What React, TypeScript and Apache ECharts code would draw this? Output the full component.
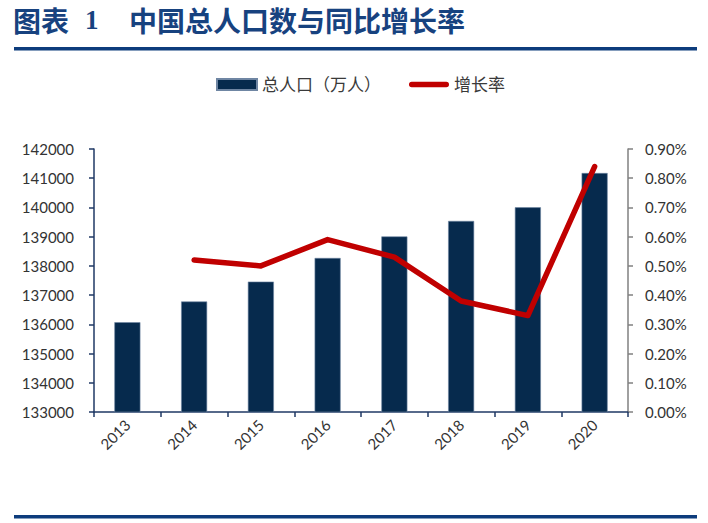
import React, { useEffect, useRef } from "react";
import * as echarts from "echarts";

const years = ["2013", "2014", "2015", "2016", "2017", "2018", "2019", "2020"];
const population = [136072, 136782, 137462, 138271, 139008, 139538, 140005, 141178];
const growthRate: (number | string)[] = ["-", 0.52, 0.5, 0.59, 0.53, 0.38, 0.33, 0.84];

const seriesNames = ["总人口（万人）", "增长率"];
const titleLabel = "图表";
const titleNumber = "1";
const titleText = "中国总人口数与同比增长率";

const NAVY = "#062a4d";
const RED = "#c00000";
const TITLE_BLUE = "#17427f";
const LINE_BLUE = "#0d3c7c";
const FONT = "Lato, 'Noto Sans CJK SC', sans-serif";
const LINE_ICON = "path://M3,0 L41,0 A3,3 0 0 1 41,6 L3,6 A3,3 0 0 1 3,0 Z";

export default function App() {
  const ref = useRef<HTMLDivElement>(null);

  useEffect(() => {
    if (!ref.current) return;
    const chart = echarts.init(ref.current, undefined, { renderer: "svg" });
    const titleFont = "bold 28px 'Noto Sans CJK SC', sans-serif";
    chart.setOption({
      animation: false,
      backgroundColor: "#ffffff",
      textStyle: { fontFamily: FONT },
      graphic: [
        { type: "text", left: 13, top: 6, style: { text: titleLabel, font: titleFont, fill: TITLE_BLUE } },
        { type: "text", left: 85, top: 6, style: { text: titleNumber, font: "bold 27px 'Liberation Serif', serif", fill: TITLE_BLUE } },
        { type: "text", left: 129, top: 6, style: { text: titleText, font: titleFont, fill: TITLE_BLUE } },
        { type: "rect", shape: { x: 14, y: 47, width: 683, height: 3.5 }, style: { fill: LINE_BLUE } },
        { type: "rect", shape: { x: 14, y: 515, width: 683, height: 3.5 }, style: { fill: LINE_BLUE } },
      ],
      legend: {
        left: 211,
        top: 71,
        itemWidth: 40,
        itemHeight: 11,
        itemGap: 28,
        textStyle: { fontSize: 17, color: "#3a3a3a", fontFamily: FONT },
        data: [
          { name: seriesNames[0], icon: "rect" },
          { name: seriesNames[1], icon: LINE_ICON, itemStyle: { color: RED } },
        ],
      },
      grid: { left: 94, right: 80, top: 149, bottom: 111, containLabel: false },
      xAxis: {
        type: "category",
        data: years,
        boundaryGap: true,
        axisLine: { lineStyle: { color: "#1f3864", width: 1.5 } },
        axisTick: { show: true, alignWithLabel: false, length: 5, lineStyle: { color: "#1f3864", width: 1.5 } },
        axisLabel: { rotate: 45, fontSize: 15, color: "#333333", margin: 10, fontFamily: FONT },
      },
      yAxis: [
        {
          type: "value",
          min: 133000,
          max: 142000,
          interval: 1000,
          splitLine: { show: false },
          axisLine: { show: true, lineStyle: { color: "#1f3864", width: 1.5 } },
          axisTick: { show: true, length: 5, lineStyle: { color: "#1f3864", width: 1.5 } },
          axisLabel: {
            fontSize: 15,
            color: "#333333",
            margin: 20,
            fontFamily: FONT,
            formatter: (v: number) => String(v),
          },
        },
        {
          type: "value",
          min: 0,
          max: 0.9,
          interval: 0.1,
          position: "right",
          splitLine: { show: false },
          axisLine: { show: true, lineStyle: { color: "#808080", width: 1.5 } },
          axisTick: { show: true, length: 5, lineStyle: { color: "#808080", width: 1.5 } },
          axisLabel: {
            fontSize: 15,
            color: "#333333",
            margin: 17,
            fontFamily: FONT,
            formatter: (v: number) => v.toFixed(2) + "%",
          },
        },
      ],
      series: [
        {
          name: seriesNames[0],
          type: "bar",
          data: population,
          barWidth: "39%",
          itemStyle: { color: NAVY, borderColor: "#6f86a3", borderWidth: 0.6 },
        },
        {
          name: seriesNames[1],
          type: "line",
          yAxisIndex: 1,
          data: growthRate,
          showSymbol: false,
          symbol: "none",
          lineStyle: { color: RED, width: 5.5, cap: "round", join: "round" },
          itemStyle: { color: RED },
        },
      ],
    });
    return () => chart.dispose();
  }, []);

  return (
    <div
      ref={ref}
      style={{ position: "fixed", left: 0, top: 0, width: 708, height: 523 }}
    />
  );
}
